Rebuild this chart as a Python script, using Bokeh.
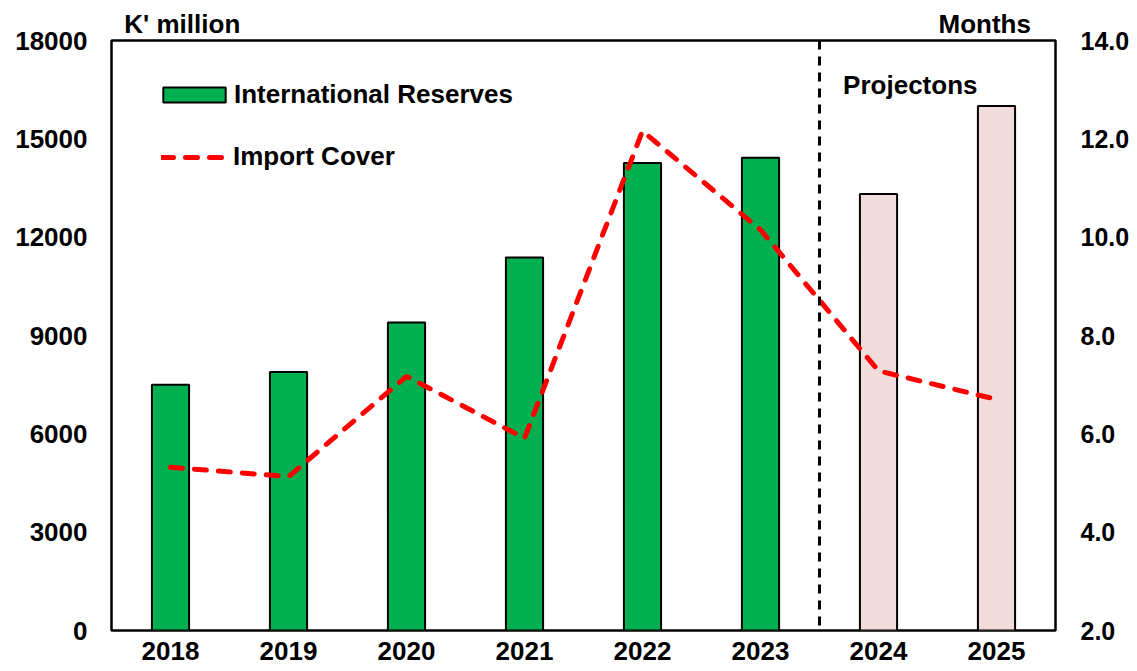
from bokeh.plotting import figure
from bokeh.models import (Range1d, LinearAxis, FixedTicker, Span, Label, Legend,
                          LegendItem, NumeralTickFormatter, ColumnDataSource)
from bokeh.embed import file_html
from bokeh.resources import INLINE

# ---- data ----
years = ["2018", "2019", "2020", "2021", "2022", "2023", "2024", "2025"]
reserves = [7500, 7890, 9400, 11380, 14260, 14420, 13320, 16000]   # K' million
import_cover = [5.32, 5.13, 7.17, 5.91, 12.16, 10.15, 7.28, 6.70]  # months
projected = [False, False, False, False, False, False, True, True]
left_ticks = [0, 3000, 6000, 9000, 12000, 15000, 18000]
right_ticks = [2.0, 4.0, 6.0, 8.0, 10.0, 12.0, 14.0]
unit_labels = {0.1: "K' million", 6.9: "Months"}

FONT = "Liberation Sans"
idx = list(range(len(years)))
hist_src = ColumnDataSource(dict(x=[i for i in idx if not projected[i]],
                                 top=[reserves[i] for i in idx if not projected[i]]))
proj_src = ColumnDataSource(dict(x=[i for i in idx if projected[i]],
                                 top=[reserves[i] for i in idx if projected[i]]))

p = figure(width=1137, height=671, output_backend="svg", toolbar_location=None,
           x_range=Range1d(-0.5, 7.5), y_range=Range1d(0, 18000),
           min_border_left=111, min_border_right=82, min_border_top=40, min_border_bottom=41)
p.extra_y_ranges = {"months": Range1d(2, 14)}

p.xgrid.visible = False
p.ygrid.visible = False
p.outline_line_color = "black"
p.outline_line_width = 2.5
p.background_fill_color = "white"
p.border_fill_color = "white"

bars_hist = p.vbar(x="x", top="top", width=0.315, source=hist_src,
                   fill_color="#00B050", line_color="black", line_width=2)
bars_proj = p.vbar(x="x", top="top", width=0.315, source=proj_src,
                   fill_color="#F2DCDB", line_color="black", line_width=2)

line = p.line(idx, import_cover, y_range_name="months", line_color="#FF0000",
              line_width=5, line_dash="12 12", line_cap="round")

p.add_layout(Span(location=5.5, dimension="height", line_color="black",
                  line_width=3, line_dash="9 7"))

# axes styling
def style_axis(ax, size):
    ax.axis_line_color = None
    ax.major_tick_line_color = None
    ax.minor_tick_line_color = None
    ax.major_tick_out = 0
    ax.major_tick_in = 0
    ax.major_label_text_font = FONT
    ax.major_label_text_font_style = "bold"
    ax.major_label_text_font_size = size
    ax.major_label_text_color = "black"

xa = p.xaxis[0]
xa.ticker = FixedTicker(ticks=idx)
xa.major_label_overrides = {i: y for i, y in zip(idx, years)}
style_axis(xa, "26px")
xa.major_label_standoff = 11

ya = p.yaxis[0]
ya.ticker = FixedTicker(ticks=left_ticks)
ya.formatter = NumeralTickFormatter(format="0")
style_axis(ya, "26px")
ya.major_label_standoff = 24

ra = LinearAxis(y_range_name="months", ticker=FixedTicker(ticks=right_ticks),
                formatter=NumeralTickFormatter(format="0.0"))
style_axis(ra, "25px")
ra.major_label_standoff = 25
p.add_layout(ra, "right")

# unit captions above the frame
ta = LinearAxis(ticker=FixedTicker(ticks=list(unit_labels.keys())))
ta.major_label_overrides = unit_labels
style_axis(ta, "26px")
ta.major_label_standoff = 2
p.add_layout(ta, "above")

p.add_layout(Label(x=5.70, y=16650, text="Projectons", text_font=FONT,
                   text_font_style="bold", text_font_size="26px", text_color="black",
                   text_baseline="alphabetic", text_align="left"))

def style_legend(lg, gw, gh, standoff):
    lg.border_line_color = None
    lg.background_fill_alpha = 0
    lg.padding = 0
    lg.margin = 0
    lg.glyph_width = gw
    lg.glyph_height = gh
    lg.label_standoff = standoff
    lg.label_text_font = FONT
    lg.label_text_font_style = "bold"
    lg.label_text_font_size = "26px"
    lg.label_text_color = "black"

leg1 = Legend(items=[LegendItem(label="International Reserves", renderers=[bars_hist])],
              location=(44, 520))
style_legend(leg1, 78, 19, 1)
p.add_layout(leg1)

leg2 = Legend(items=[LegendItem(label="Import Cover", renderers=[line])],
              location=(50, 458))
style_legend(leg2, 66, 16, 6)
p.add_layout(leg2)

open("out.html", "w").write(file_html(p, INLINE))
